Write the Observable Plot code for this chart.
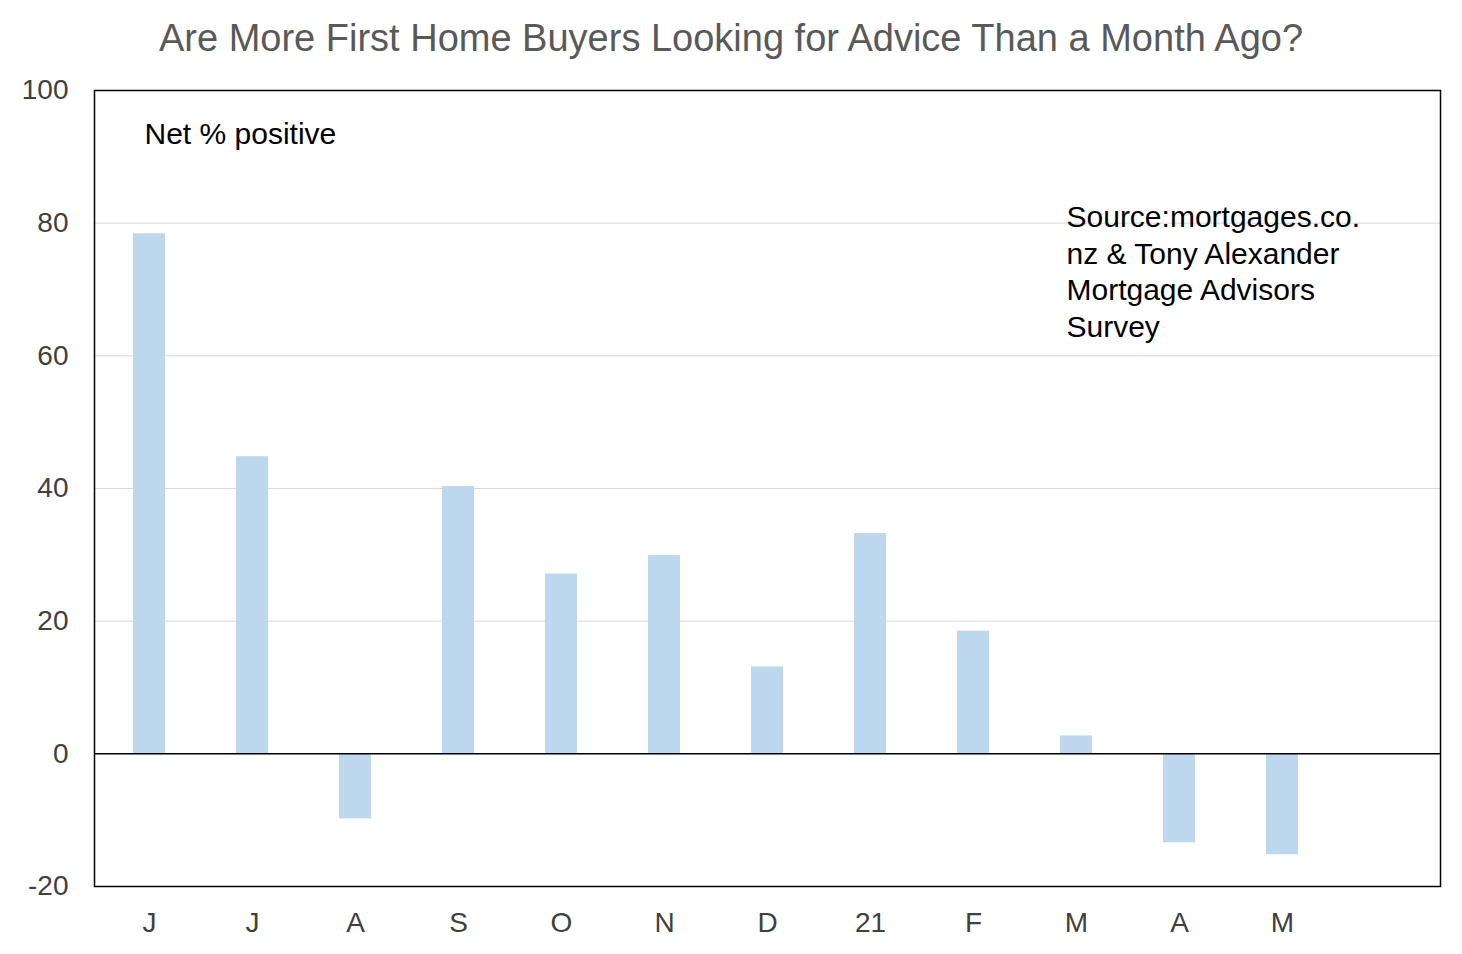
<!DOCTYPE html>
<html><head><meta charset="utf-8">
<script src="https://cdn.jsdelivr.net/npm/d3@7"></script>
<script src="https://cdn.jsdelivr.net/npm/@observablehq/plot@0.6"></script>
<style>
body{margin:0;background:#fff;font-family:"Liberation Sans",Arial,sans-serif;}
#t{height:70px;line-height:76px;text-align:center;font-size:38px;color:#595959;width:1462px}
</style></head><body>
<div id="t">Are More First Home Buyers Looking for Advice Than a Month Ago?</div>
<div id="c"></div>
<script>
const keys = ["Jun","Jul","Aug","Sep","Oct","Nov","Dec","Jan21","Feb","Mar","Apr","May","blank"];
const labels = ["J","J","A","S","O","N","D","21","F","M","A","M",""];
const values = [78.4,44.8,-9.8,40.3,27.1,29.9,13.1,33.2,18.5,2.7,-13.4,-15.2,null];
const yTicks = [-20,0,20,40,60,80,100];
const data = keys.map((k,i)=>({k,v:values[i]})).filter(d=>d.v!==null);
const lab = new Map(keys.map((k,i)=>[k,labels[i]]));
const chart = Plot.plot({
  width:1462, height:884,
  marginLeft:94, marginRight:22, marginTop:20, marginBottom:68,
  style:{fontFamily:"Liberation Sans, Arial, sans-serif", fontSize:"28px", color:"#404040"},
  x:{domain:keys, paddingInner:0.69, paddingOuter:0.345, tickFormat:k=>lab.get(k), tickSize:0, tickPadding:26, label:null},
  y:{domain:[-20,100], ticks:yTicks, tickSize:0, tickPadding:26, label:null, tickFormat:d=>d},
  marks:[
    Plot.gridY(yTicks.filter(d=>d>-20&&d<100&&d!==0),{stroke:"#d9d9d9",strokeOpacity:1}),
    Plot.barY(data,{x:"k",y:"v",fill:"#bdd7ee"}),
    Plot.ruleY([0],{stroke:"#000",strokeWidth:1.5}),
    Plot.frame({stroke:"#000",strokeWidth:1.5}),
    Plot.text(["Net % positive"],{frameAnchor:"top-left",dx:50,dy:32,fontSize:30,fill:"#000",textAnchor:"start"}),
    Plot.text(["Source:mortgages.co.\nnz & Tony Alexander\nMortgage Advisors\nSurvey"],{frameAnchor:"top-left",dx:972,dy:110,fontSize:30,fill:"#000",textAnchor:"start",lineHeight:1.23})
  ]
});
document.getElementById("c").appendChild(chart);
</script></body></html>
